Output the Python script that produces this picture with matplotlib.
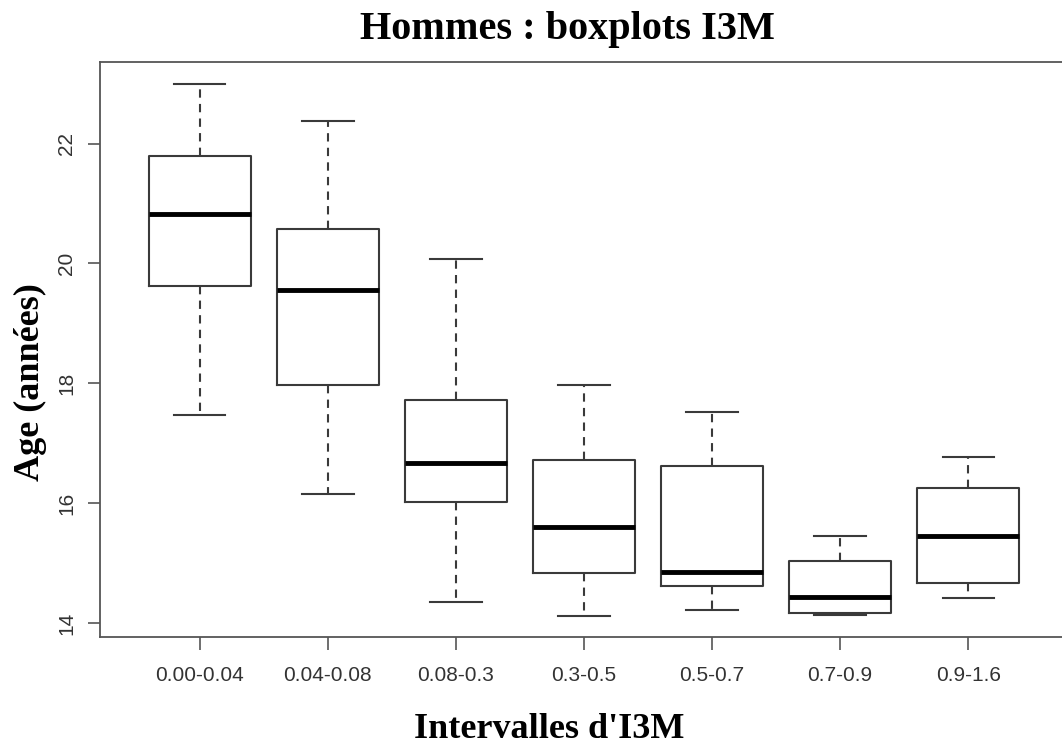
import matplotlib
matplotlib.use("Agg")
import matplotlib.pyplot as plt

# ------------------------------------------------------------
# Hommes : boxplots I3M
# ------------------------------------------------------------
labels = ["0.00-0.04", "0.04-0.08", "0.08-0.3", "0.3-0.5", "0.5-0.7", "0.7-0.9", "0.9-1.6"]
whislo = [17.47, 16.15, 14.35, 14.12, 14.22, 14.13, 14.42]
q1     = [19.63, 17.97, 16.02, 14.83, 14.62, 14.17, 14.67]
med    = [20.83, 19.55, 16.68, 15.60, 14.85, 14.43, 15.45]
q3     = [21.80, 20.58, 17.72, 16.72, 16.63, 15.03, 16.25]
whishi = [23.00, 22.37, 20.07, 17.97, 17.53, 15.45, 16.77]
yticks = [14, 16, 18, 20, 22]

stats = []
for i in range(len(labels)):
    stats.append(dict(label=labels[i], whislo=whislo[i], q1=q1[i], med=med[i],
                      q3=q3[i], whishi=whishi[i], fliers=[]))

W, H = 1062, 747
fig = plt.figure(figsize=(W / 100, H / 100), dpi=100)
# axes run past the right edge like in the cropped original
ax = fig.add_axes([100 / W, 1 - 637 / H, 968 / W, 575 / H])

edge = "#3a3a3a"
ax.bxp(stats, positions=range(1, 8), widths=0.8, showfliers=False,
       boxprops=dict(color=edge, linewidth=1.5),
       medianprops=dict(color="black", linewidth=3.5, solid_capstyle="butt"),
       whiskerprops=dict(color=edge, linewidth=1.5, linestyle=(0, (4, 3))),
       capprops=dict(color=edge, linewidth=1.5), capwidths=0.4)

ax.set_xlim(0.22, 7.78)
ax.set_ylim(13.77, 23.36)
ax.set_yticks(yticks)
ax.set_yticklabels([str(v) for v in yticks], rotation=90, va="center",
                   fontfamily="Liberation Sans", fontsize=15, color="#333333")
ax.set_xticks(range(1, 8))
ax.set_xticklabels(labels, fontfamily="Liberation Sans", fontsize=15, color="#333333")
ax.tick_params(length=9, width=1.2, color="#555555", direction="out")
ax.tick_params(axis="x", pad=12)
ax.tick_params(axis="y", pad=8)
for s in ax.spines.values():
    s.set_color("#555555")
    s.set_linewidth(1.3)

fig.text(567 / W, 1 - 30 / H, "Hommes : boxplots I3M", ha="center", va="center",
         fontfamily="Liberation Serif", fontweight="bold", fontsize=29)
fig.text(549 / W, 1 - 730 / H, "Intervalles d'I3M", ha="center", va="center",
         fontfamily="Liberation Serif", fontweight="bold", fontsize=26)
fig.text(30 / W, 1 - 382 / H, "Age (années)", ha="center", va="center", rotation=90,
         fontfamily="Liberation Serif", fontweight="bold", fontsize=26)

fig.savefig("out.png", dpi=100)
